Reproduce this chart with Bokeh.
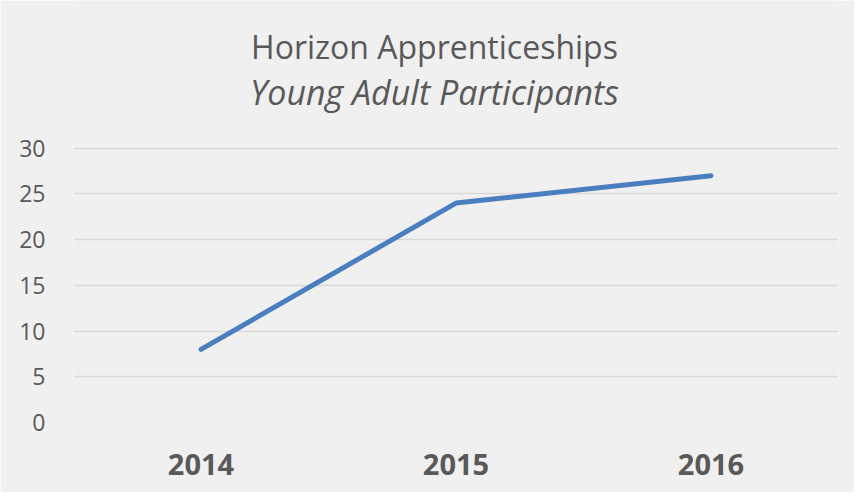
from bokeh.plotting import figure
from bokeh.models import Range1d, FactorRange, Label
from bokeh.embed import file_html
from bokeh.resources import INLINE

years = ["2014", "2015", "2016"]
participants = [8, 24, 27]
y_ticks = [0, 5, 10, 15, 20, 25, 30]
title_text = "Horizon Apprenticeships"
subtitle_text = "Young Adult Participants"

BG = "#f0f0f0"
TXT = "#595959"

# frame reaches the top of the figure so that the title labels sit inside it
p = figure(width=854, height=492, x_range=FactorRange(*years), y_range=Range1d(0, 46.16),
           output_backend="svg", toolbar_location=None,
           min_border_left=73, min_border_right=16, min_border_top=0, min_border_bottom=70)
p.background_fill_color = BG
p.border_fill_color = BG
p.outline_line_color = None

p.line(x=years, y=participants, line_color="#4a7ebf", line_width=5, line_cap="round", line_join="round")

p.yaxis.ticker = y_ticks
p.xgrid.grid_line_color = None
p.ygrid.grid_line_color = "#d9d9d9"
p.ygrid.grid_line_width = 1.5
for ax in (p.xaxis, p.yaxis):
    ax.axis_line_color = None
    ax.major_tick_line_color = None
    ax.minor_tick_line_color = None
    ax.major_label_text_color = TXT
    ax.major_label_text_font = "Open Sans"
p.yaxis.major_label_text_font_size = "23px"
p.yaxis.major_label_standoff = 22
p.xaxis.major_label_text_font_size = "29px"
p.xaxis.major_label_text_font_style = "bold"
p.xaxis.major_label_standoff = 25

p.add_layout(Label(x=361, y=376, x_units="screen", y_units="screen", text=title_text,
                   text_font="Open Sans", text_font_size="32px", text_color=TXT,
                   text_align="center", text_baseline="alphabetic"))
p.add_layout(Label(x=361, y=331, x_units="screen", y_units="screen", text=subtitle_text,
                   text_font="Open Sans", text_font_size="34px", text_font_style="italic",
                   text_color=TXT, text_align="center", text_baseline="alphabetic"))

open("out.html", "w").write(file_html(p, INLINE))
